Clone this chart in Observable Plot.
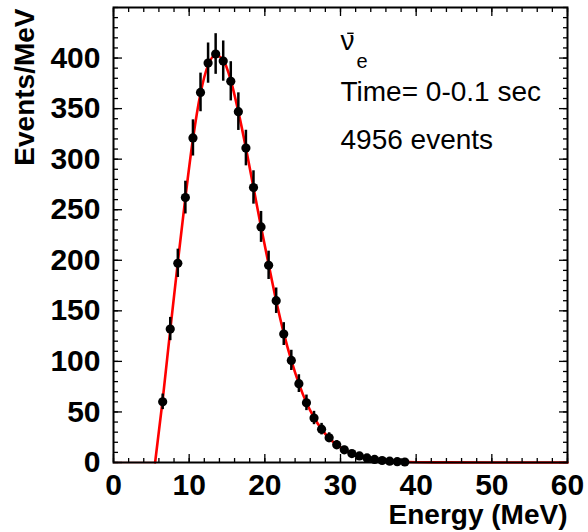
<!DOCTYPE html>
<html>
<head>
<meta charset="utf-8">
<script src="https://cdn.jsdelivr.net/npm/d3@7"></script>
<script src="https://cdn.jsdelivr.net/npm/@observablehq/plot@0.6"></script>
<style>
  html, body { margin: 0; padding: 0; background: #fff; }
</style>
</head>
<body>
<div id="chart"></div>
<script>
// ---- data ----
const energy = [6.5, 7.5, 8.5, 9.5, 10.5, 11.5, 12.5, 13.5, 14.5, 15.5, 16.5, 17.5, 18.5, 19.5, 20.5, 21.5, 22.5, 23.5, 24.5, 25.5, 26.5, 27.5, 28.5, 29.5, 30.5, 31.5, 32.5, 33.5, 34.5, 35.5, 36.5, 37.5, 38.5];
const counts = [60, 132, 197, 262, 321, 366, 395, 404, 397, 377, 347, 311, 272, 233, 195, 160, 127, 101, 78, 59, 44, 33, 24.5, 17.5, 12.5, 8.8, 6.5, 4.5, 3, 2, 1.3, 0.8, 0.5];
const errors = [7.7, 11.5, 14, 16.2, 17.9, 19.1, 19.9, 20.1, 19.9, 19.4, 18.6, 17.6, 16.5, 15.3, 14, 12.6, 11.3, 10, 8.8, 7.7, 6.6, 5.7, 4.9, 4.2, 3.5, 3, 2.5, 2.1, 1.7, 1.4, 1.1, 0.9, 0.7];

const fitEnergy = [5.5, 6.5, 7.5, 8.5, 9.5, 10.5, 11.5, 12.5, 13.5, 14.5, 15.5, 16.5, 17.5, 18.5, 19.5, 20.5, 21.5, 22.5, 23.5, 24.5, 25.5, 26.5, 27.5, 28.5, 29.5, 30.5, 31.5, 32.5, 33.5, 34.5, 36, 38, 40, 44, 50, 60];
const fitCounts = [0, 62, 131, 198, 262, 320, 365, 393, 403, 398, 378, 347, 311, 272, 233, 196, 160, 128, 101, 78, 59, 44.5, 33, 24, 17.5, 12.5, 9, 6.3, 4.4, 3, 1.6, 0.7, 0.3, 0.08, 0.01, 0];

const xMajorTicks = [0, 10, 20, 30, 40, 50, 60];
const xMinorTicks = [0, 2, 4, 6, 8, 10, 12, 14, 16, 18, 20, 22, 24, 26, 28, 30, 32, 34, 36, 38, 40, 42, 44, 46, 48, 50, 52, 54, 56, 58, 60];
const yMajorTicks = [0, 50, 100, 150, 200, 250, 300, 350, 400];
const yMinorTicks = [0, 10, 20, 30, 40, 50, 60, 70, 80, 90, 100, 110, 120, 130, 140, 150, 160, 170, 180, 190, 200, 210, 220, 230, 240, 250, 260, 270, 280, 290, 300, 310, 320, 330, 340, 350, 360, 370, 380, 390, 400, 410, 420, 430, 440, 450];

const xTitle = "Energy (MeV)";
const yTitle = "Events/MeV";
const particleLabel = "ν";
const particleSub = "e";
const infoLines = ["Time= 0-0.1 sec", "4956 events"];
const infoY = [358, 310];
const labelX = 30;
const particleY = 408;
const barX1 = 30.95;
const barX2 = 31.8;
const barY = 424.5;
const subX = 32.1;
const subY = 390.5;

// ---- build ----
const points = energy.map((e, i) => ({e, n: counts[i], err: errors[i]}));
const fit = fitEnergy.map((e, i) => ({e, n: fitCounts[i]}));
const info = infoLines.map((t, i) => ({t, x: labelX, y: infoY[i]}));
const xDomain = [0, 60];
const font = "'Liberation Sans', Arial, Helvetica, sans-serif";

const chart = Plot.plot({
  width: 588,
  height: 532,
  marginLeft: 113,
  marginRight: 21,
  marginTop: 7,
  marginBottom: 70,
  style: {fontFamily: font, background: "white", color: "black"},
  x: {domain: xDomain},
  y: {domain: [0, 450]},
  marks: [
    Plot.ruleY([0], {x1: xDomain[0], x2: fitEnergy[0], stroke: "red", strokeWidth: 2, strokeOpacity: 0.35}),
    Plot.line(fit, {x: "e", y: "n", stroke: "red", strokeWidth: 2.6, curve: "monotone-x"}),
    Plot.ruleX(points, {x: "e", y1: d => d.n - d.err, y2: d => d.n + d.err, stroke: "black", strokeWidth: 2.5}),
    Plot.dot(points, {x: "e", y: "n", r: 4.6, fill: "black", stroke: null}),

    // inward ROOT-style ticks on all four sides
    Plot.axisX(xMinorTicks, {anchor: "bottom", tickSize: -4, fill: "none", label: null, strokeWidth: 1.3}),
    Plot.axisX(xMajorTicks, {anchor: "bottom", tickSize: -8, fill: "none", label: null, strokeWidth: 1.3}),
    Plot.axisX(xMinorTicks, {anchor: "top", tickSize: -4, fill: "none", label: null, strokeWidth: 1.3}),
    Plot.axisX(xMajorTicks, {anchor: "top", tickSize: -8, fill: "none", label: null, strokeWidth: 1.3}),
    Plot.axisY(yMinorTicks, {anchor: "left", tickSize: -5, fill: "none", label: null, strokeWidth: 1.3}),
    Plot.axisY(yMajorTicks, {anchor: "left", tickSize: -9, fill: "none", label: null, strokeWidth: 1.3}),
    Plot.axisY(yMinorTicks, {anchor: "right", tickSize: -5, fill: "none", label: null, strokeWidth: 1.3}),
    Plot.axisY(yMajorTicks, {anchor: "right", tickSize: -9, fill: "none", label: null, strokeWidth: 1.3}),

    Plot.frame({stroke: "black", strokeWidth: 2}),

    // tick labels
    Plot.axisX(xMajorTicks, {anchor: "bottom", tickSize: 0, tickPadding: 11, label: null, fontSize: 30, fontWeight: "bold", tickFormat: d => String(d)}),
    Plot.axisY(yMajorTicks, {anchor: "left", tickSize: 0, tickPadding: 13, label: null, fontSize: 30, fontWeight: "bold", tickFormat: d => String(d)}),

    // axis titles
    Plot.text([xTitle], {text: d => d, frameAnchor: "bottom-right", textAnchor: "end", lineAnchor: "bottom", dy: 61, fontSize: 28, fontWeight: "bold"}),
    Plot.text([yTitle], {text: d => d, frameAnchor: "top-left", rotate: -90, textAnchor: "end", lineAnchor: "bottom", dx: -80, dy: 1, fontSize: 28, fontWeight: "bold"}),

    // annotations: anti-neutrino symbol (nu with overbar, subscript e) and info lines
    Plot.text([particleLabel], {text: d => d, x: () => labelX, y: () => particleY, textAnchor: "start", lineAnchor: "bottom", fontSize: 28}),
    Plot.ruleY([barY], {x1: () => barX1, x2: () => barX2, y: d => d, stroke: "black", strokeWidth: 1.4}),
    Plot.text([particleSub], {text: d => d, x: () => subX, y: () => subY, textAnchor: "start", lineAnchor: "bottom", fontSize: 20}),
    Plot.text(info, {text: "t", x: "x", y: "y", textAnchor: "start", lineAnchor: "bottom", fontSize: 28})
  ]
});
document.getElementById("chart").appendChild(chart);
</script>
</body>
</html>
